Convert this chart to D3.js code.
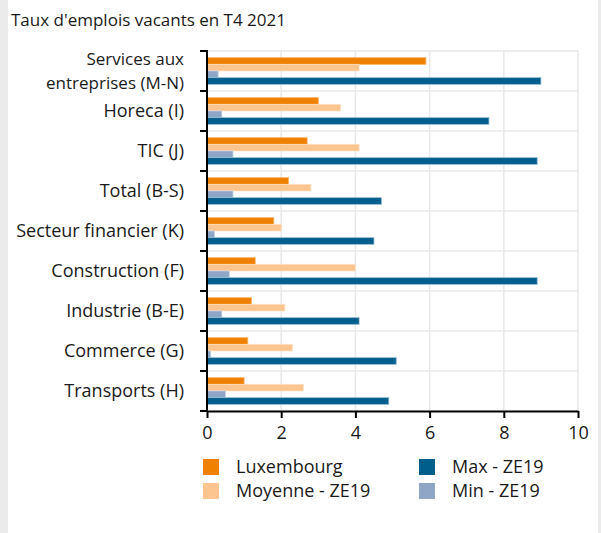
<!DOCTYPE html>
<html>
<head>
<meta charset="utf-8">
<script src="https://cdn.jsdelivr.net/npm/d3@7"></script>
<style>
  html, body { margin: 0; padding: 0; background: #ebebeb; }
  svg { display: block; }
  text { font-family: "Open Sans", "DejaVu Sans", sans-serif; fill: #1a1a1a; }
</style>
</head>
<body>
<svg id="chart" width="601" height="533"></svg>
<script>
// Job vacancy rates, Q4 2021, by sector
const categories = [
  "Services aux\nentreprises (M-N)",
  "Horeca (I)",
  "TIC (J)",
  "Total (B-S)",
  "Secteur financier (K)",
  "Construction (F)",
  "Industrie (B-E)",
  "Commerce (G)",
  "Transports (H)"
];
const luxembourg = [5.9, 3.0, 2.7, 2.2, 1.8, 1.3, 1.2, 1.1, 1.0];
const moyenneZE19 = [4.1, 3.6, 4.1, 2.8, 2.0, 4.0, 2.1, 2.3, 2.6];
const minZE19 = [0.3, 0.4, 0.7, 0.7, 0.2, 0.6, 0.4, 0.1, 0.5];
const maxZE19 = [9.0, 7.6, 8.9, 4.7, 4.5, 8.9, 4.1, 5.1, 4.9];
const xTicks = [0, 2, 4, 6, 8, 10];

const series = [
  { name: "Luxembourg", values: luxembourg, color: "#f08100", edge: "#f7b266" },
  { name: "Moyenne - ZE19", values: moyenneZE19, color: "#fcc48e", edge: "#fde0c3" },
  { name: "Min - ZE19", values: minZE19, color: "#8fa6c6", edge: "#c3d0e2" },
  { name: "Max - ZE19", values: maxZE19, color: "#005e8c", edge: "#8fb9d3" }
];

const svg = d3.select("#chart");

// white card with grey margins on each side
svg.append("rect").attr("x", 8).attr("y", 0).attr("width", 590).attr("height", 533).attr("fill", "#ffffff");

svg.append("text")
  .attr("x", 11).attr("y", 26)
  .style("font-size", "17px")
  .text("Taux d'emplois vacants en T4 2021");

const plot = { left: 207, right: 578, top: 51, bottom: 411 };

const x = d3.scaleLinear().domain([0, 10]).range([plot.left, plot.right]);
const y = d3.scaleBand().domain(categories).range([plot.top, plot.bottom]);
const inner = d3.scaleBand()
  .domain(series.map(s => s.name))
  .range([0, y.bandwidth()])
  .paddingOuter(1.0)
  .paddingInner(0);

const g = svg.append("g");

// grid
g.append("rect")
  .attr("x", plot.left).attr("y", plot.top)
  .attr("width", plot.right - plot.left).attr("height", plot.bottom - plot.top)
  .attr("fill", "none").attr("stroke", "#e8e8e8").attr("stroke-width", 1.5);
g.selectAll(".vgrid").data(xTicks.slice(1, -1)).join("line")
  .attr("x1", d => x(d)).attr("x2", d => x(d))
  .attr("y1", plot.top).attr("y2", plot.bottom)
  .attr("stroke", "#e8e8e8").attr("stroke-width", 1.5);
g.selectAll(".hgrid").data(categories.slice(1)).join("line")
  .attr("x1", plot.left).attr("x2", plot.right)
  .attr("y1", d => y(d)).attr("y2", d => y(d))
  .attr("stroke", "#e8e8e8").attr("stroke-width", 1.5);

// bars
series.forEach(s => {
  g.append("g").selectAll("rect").data(categories).join("rect")
    .attr("x", x(0))
    .attr("y", (c) => y(c) + inner(s.name))
    .attr("width", (c, i) => x(s.values[i]) - x(0))
    .attr("height", inner.bandwidth())
    .attr("fill", s.color)
    .attr("stroke", s.edge)
    .attr("stroke-width", 0.8);
});

// x axis
const xAxis = d3.axisBottom(x).tickValues(xTicks).tickSize(7).tickSizeOuter(0).tickFormat(d3.format("d"));
const xa = svg.append("g").attr("transform", `translate(0,${plot.bottom})`).call(xAxis);
xa.select(".domain").attr("stroke", "#000").attr("stroke-width", 2);
xa.selectAll(".tick line").attr("stroke", "#000").attr("stroke-width", 2);
xa.selectAll(".tick text").attr("dy", "0.71em").attr("y", 15)
  .style("font-size", "18px").style("font-family", "\"Open Sans\", sans-serif").attr("fill", "#1a1a1a");

// y axis: ticks on band boundaries
const ya = svg.append("g");
ya.append("line")
  .attr("x1", plot.left).attr("x2", plot.left)
  .attr("y1", plot.top - 1).attr("y2", plot.bottom + 1)
  .attr("stroke", "#000").attr("stroke-width", 2);
const bounds = categories.map(c => y(c)).concat([plot.bottom]);
ya.selectAll(".ytick").data(bounds).join("line")
  .attr("x1", plot.left - 7).attr("x2", plot.left)
  .attr("y1", d => d).attr("y2", d => d)
  .attr("stroke", "#000").attr("stroke-width", 2);

// category labels, one text per line so wrapped labels stack cleanly
const labels = svg.append("g");
categories.forEach(c => {
  const lines = c.split("\n");
  const cy = y(c) + y.bandwidth() / 2;
  const wrapped = lines.length > 1;
  const fs = wrapped ? 17 : 18;
  const lh = 23.4;
  lines.forEach((ln, k) => {
    labels.append("text")
      .attr("text-anchor", "end")
      .style("font-size", fs + "px")
      .attr("x", 184)
      .attr("y", cy + (k - (lines.length - 1) / 2) * lh)
      .attr("dy", "0.35em")
      .text(ln);
  });
});

// legend
const legendItems = [
  { s: series[0], col: 0, row: 0 },
  { s: series[1], col: 0, row: 1 },
  { s: series[3], col: 1, row: 0 },
  { s: series[2], col: 1, row: 1 }
];
const lg = svg.append("g");
legendItems.forEach(it => {
  const lx = it.col === 0 ? 203 : 419;
  const ly = 459 + it.row * 24;
  lg.append("rect")
    .attr("x", lx).attr("y", ly).attr("width", 16).attr("height", 16)
    .attr("fill", it.s.color);
  lg.append("text")
    .attr("x", lx + 33).attr("y", ly + 8).attr("dy", "0.35em")
    .style("font-size", "18px")
    .text(it.s.name);
});
</script>
</body>
</html>
